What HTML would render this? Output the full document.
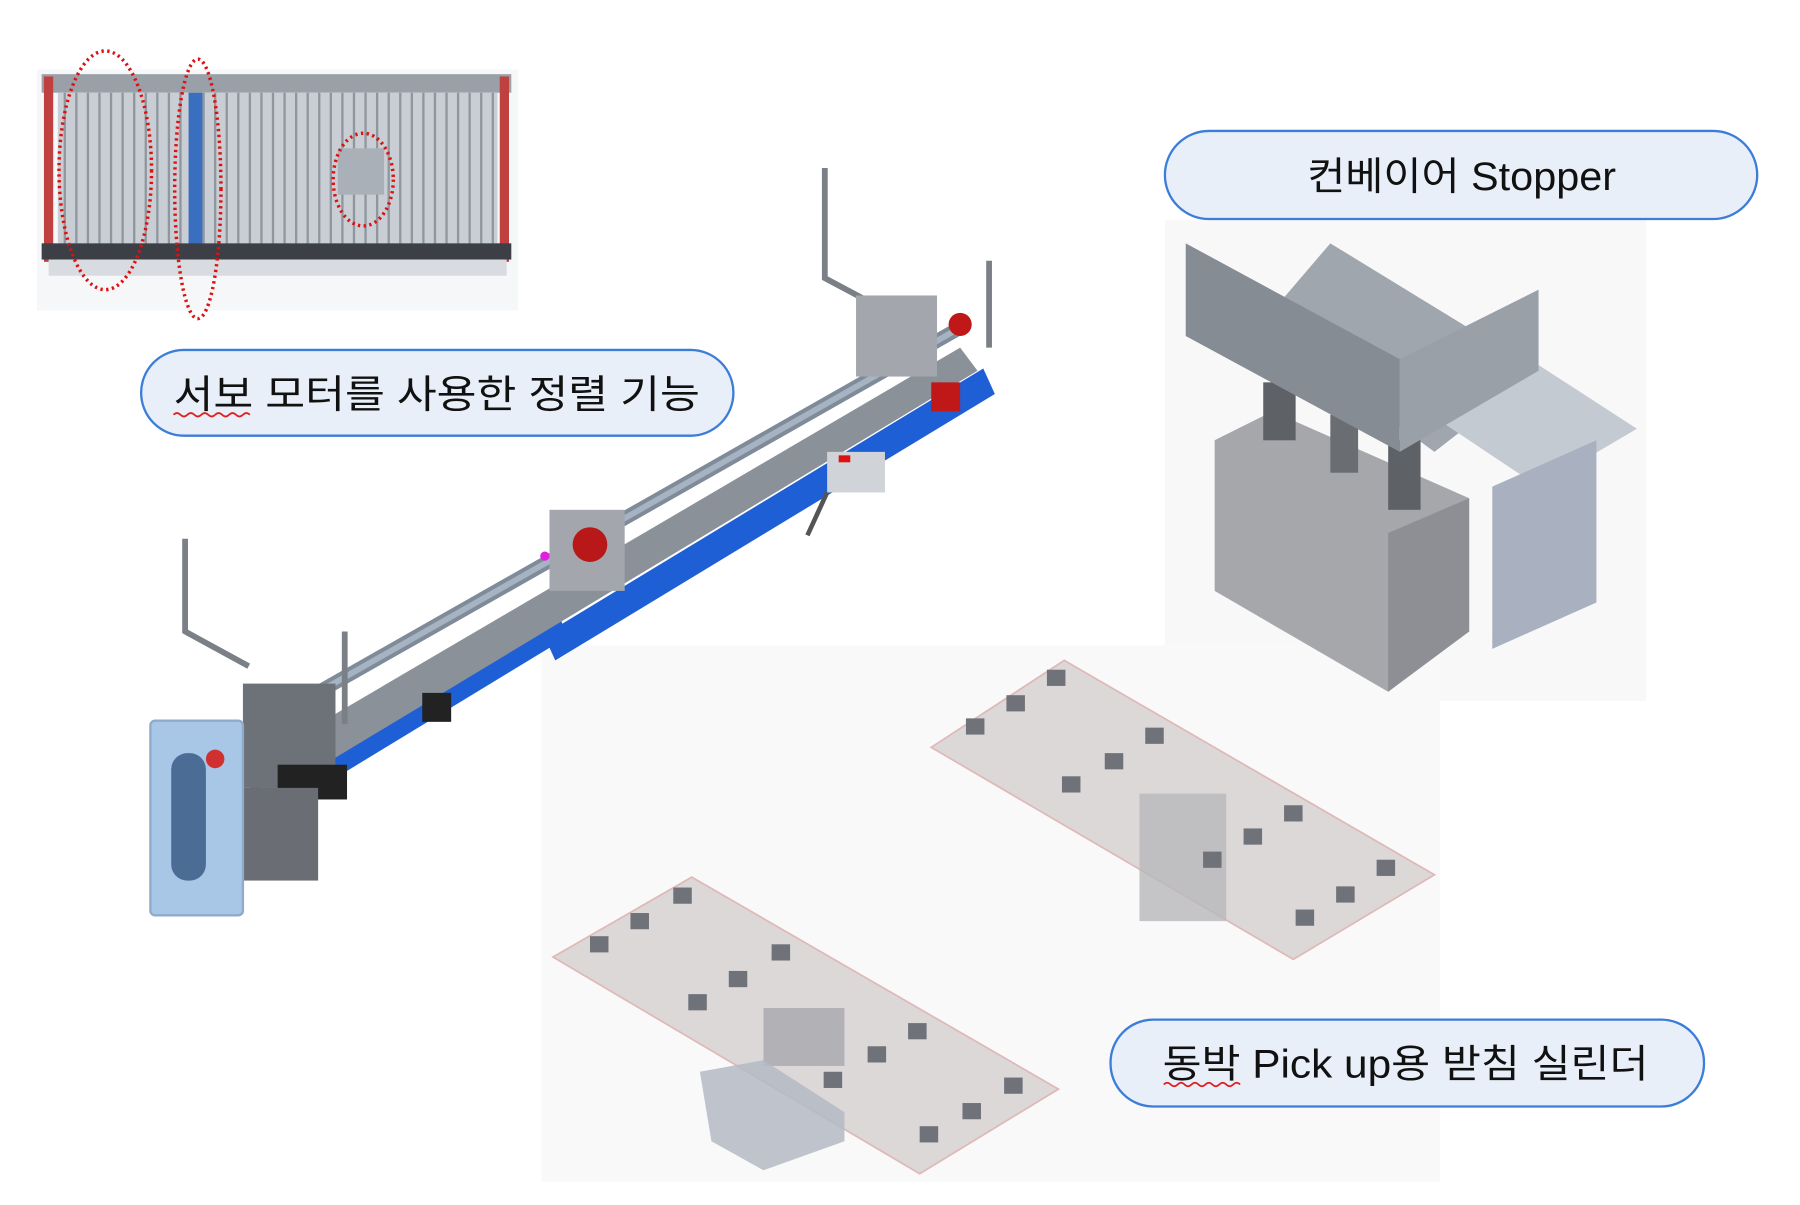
<!DOCTYPE html>
<html><head><meta charset="utf-8"><style>
html,body{margin:0;padding:0;background:#fff;}
svg{display:block;}
text{font-family:"Liberation Sans","Noto Sans CJK KR","NanumGothic",sans-serif;}
</style></head><body>
<svg width="1800" height="1205" viewBox="0 0 1556 1040" preserveAspectRatio="none" xmlns="http://www.w3.org/2000/svg">
<rect width="1556" height="1040" fill="#fff"/>
<rect x="1007" y="190" width="416" height="415" fill="#f8f8f8"/>
<rect x="468" y="557" width="777" height="463" fill="#f9f9f9"/>
<rect x="32" y="60" width="416" height="208" fill="#f6f7f8"/>

<rect x="36" y="64" width="406" height="16" fill="#9aa0a8"/>
<rect x="38" y="66" width="8" height="160" fill="#c04040"/>
<rect x="432" y="66" width="8" height="160" fill="#c04040"/>
<rect x="50" y="80" width="380" height="130" fill="#c9ced4"/>
<g stroke="#8f969e" stroke-width="2">
<line x1="56" y1="80" x2="56" y2="210"/><line x1="66" y1="80" x2="66" y2="210"/><line x1="76" y1="80" x2="76" y2="210"/><line x1="86" y1="80" x2="86" y2="210"/><line x1="96" y1="80" x2="96" y2="210"/><line x1="106" y1="80" x2="106" y2="210"/><line x1="116" y1="80" x2="116" y2="210"/><line x1="126" y1="80" x2="126" y2="210"/><line x1="136" y1="80" x2="136" y2="210"/><line x1="146" y1="80" x2="146" y2="210"/><line x1="156" y1="80" x2="156" y2="210"/><line x1="176" y1="80" x2="176" y2="210"/><line x1="186" y1="80" x2="186" y2="210"/><line x1="196" y1="80" x2="196" y2="210"/><line x1="206" y1="80" x2="206" y2="210"/><line x1="216" y1="80" x2="216" y2="210"/><line x1="226" y1="80" x2="226" y2="210"/><line x1="236" y1="80" x2="236" y2="210"/><line x1="246" y1="80" x2="246" y2="210"/><line x1="256" y1="80" x2="256" y2="210"/><line x1="266" y1="80" x2="266" y2="210"/><line x1="276" y1="80" x2="276" y2="210"/><line x1="286" y1="80" x2="286" y2="210"/><line x1="296" y1="80" x2="296" y2="210"/><line x1="306" y1="80" x2="306" y2="210"/><line x1="316" y1="80" x2="316" y2="210"/><line x1="326" y1="80" x2="326" y2="210"/><line x1="336" y1="80" x2="336" y2="210"/><line x1="346" y1="80" x2="346" y2="210"/><line x1="356" y1="80" x2="356" y2="210"/><line x1="366" y1="80" x2="366" y2="210"/><line x1="376" y1="80" x2="376" y2="210"/><line x1="386" y1="80" x2="386" y2="210"/><line x1="396" y1="80" x2="396" y2="210"/><line x1="406" y1="80" x2="406" y2="210"/><line x1="416" y1="80" x2="416" y2="210"/><line x1="426" y1="80" x2="426" y2="210"/>
</g>
<rect x="163" y="80" width="12" height="150" fill="#3a6fc0"/>
<rect x="292" y="128" width="40" height="40" fill="#aab0b8"/>
<rect x="36" y="210" width="406" height="14" fill="#3c4046"/>
<rect x="42" y="224" width="396" height="14" fill="#d8dbe0"/>
<g fill="none" stroke="#e01010" stroke-width="3" stroke-dasharray="2,3">
<ellipse cx="91" cy="147" rx="40" ry="103"/>
<ellipse cx="171" cy="163" rx="20" ry="112"/>
<ellipse cx="314" cy="155" rx="26" ry="40"/>
</g>

<polygon points="470,548 850,318 860,340 480,570" fill="#1f5fd6"/>
<polygon points="200,690 480,520 490,550 210,720" fill="#1f5fd6"/>
<polygon points="215,660 830,300 845,320 230,690" fill="#8b9199"/>
<line x1="200" y1="640" x2="835" y2="280" stroke="#7f8b98" stroke-width="12"/>
<line x1="200" y1="640" x2="835" y2="280" stroke="#a6b3c2" stroke-width="5"/>
<polyline points="713,145 713,240 760,265" fill="none" stroke="#7b7f86" stroke-width="5"/>
<polyline points="855,225 855,300" fill="none" stroke="#7b7f86" stroke-width="5"/>
<polyline points="160,465 160,545 215,575" fill="none" stroke="#7b7f86" stroke-width="5"/>
<line x1="298" y1="545" x2="298" y2="625" stroke="#7b7f86" stroke-width="5"/>
<rect x="740" y="255" width="70" height="70" fill="#a3a7ad"/>
<circle cx="830" cy="280" r="10" fill="#c01818"/>
<rect x="805" y="330" width="25" height="25" fill="#c01818"/>
<rect x="475" y="440" width="65" height="70" fill="#a3a7ad"/>
<circle cx="510" cy="470" r="15" fill="#b81818"/>
<circle cx="471" cy="480" r="4" fill="#e020e0"/>
<rect x="715" y="390" width="50" height="35" fill="#d0d3d8"/>
<rect x="725" y="393" width="10" height="6" fill="#e01010"/>
<line x1="715" y1="425" x2="698" y2="462" stroke="#555" stroke-width="4"/>
<rect x="210" y="590" width="80" height="90" fill="#6d7178"/>
<rect x="240" y="660" width="60" height="30" fill="#222"/>
<rect x="365" y="598" width="25" height="25" fill="#222"/>
<rect x="200" y="680" width="75" height="80" fill="#6a6e74"/>
<rect x="130" y="622" width="80" height="168" rx="4" fill="#a8c6e6" stroke="#90aacb" stroke-width="2"/>
<rect x="148" y="650" width="30" height="110" rx="14" fill="#4b6d95"/>
<circle cx="186" cy="655" r="8" fill="#d03030"/>

<polygon points="1090,280 1150,210 1330,320 1240,390" fill="#a0a6ae"/>
<polygon points="1240,360 1330,315 1415,370 1330,420" fill="#c4cad2"/>
<polygon points="1290,420 1380,380 1380,520 1290,560" fill="#a9b1c0"/>
<polygon points="1050,380 1100,355 1270,430 1270,545 1200,597 1050,510" fill="#a5a7ab"/>
<polygon points="1200,460 1270,430 1270,545 1200,597" fill="#8e8f94"/>
<rect x="1092" y="330" width="28" height="50" fill="#5e6166"/>
<rect x="1150" y="358" width="24" height="50" fill="#6a6d72"/>
<rect x="1200" y="380" width="28" height="60" fill="#5e6166"/>
<polygon points="1025,210 1210,310 1210,390 1025,290" fill="#868c94"/>
<polygon points="1210,310 1330,250 1330,320 1210,390" fill="#9aa0a8"/>

<polygon points="805,645 920,570 1240,755 1118,828" fill="#dcd8d8" stroke="#e0b8b8" stroke-width="1.5"/>
<polygon points="478,826 598,757 915,940 795,1013" fill="#dcd8d8" stroke="#e0b8b8" stroke-width="1.5"/>
<rect x="985" y="685" width="75" height="110" fill="#b8b8bc" opacity="0.8"/>
<rect x="660" y="870" width="70" height="50" fill="#a8a8ac" opacity="0.8"/>
<polygon points="605,925 660,915 730,960 730,985 660,1010 615,985" fill="#b4bac4" opacity="0.85"/>
<g fill="#6f7379">
<rect x="835" y="620" width="16" height="14"/><rect x="870" y="600" width="16" height="14"/><rect x="905" y="578" width="16" height="14"/>
<rect x="918" y="670" width="16" height="14"/><rect x="955" y="650" width="16" height="14"/><rect x="990" y="628" width="16" height="14"/>
<rect x="1110" y="695" width="16" height="14"/><rect x="1075" y="715" width="16" height="14"/><rect x="1040" y="735" width="16" height="14"/>
<rect x="1190" y="742" width="16" height="14"/><rect x="1155" y="765" width="16" height="14"/><rect x="1120" y="785" width="16" height="14"/>
<rect x="510" y="808" width="16" height="14"/><rect x="545" y="788" width="16" height="14"/><rect x="582" y="766" width="16" height="14"/>
<rect x="595" y="858" width="16" height="14"/><rect x="630" y="838" width="16" height="14"/><rect x="667" y="815" width="16" height="14"/>
<rect x="785" y="883" width="16" height="14"/><rect x="750" y="903" width="16" height="14"/><rect x="712" y="925" width="16" height="14"/>
<rect x="868" y="930" width="16" height="14"/><rect x="832" y="952" width="16" height="14"/><rect x="795" y="972" width="16" height="14"/>
</g>

<g stroke="#3b7dd8" stroke-width="2" fill="#e9eff9">
<rect x="122" y="302" width="512" height="74" rx="37"/>
<rect x="1007" y="113" width="512" height="76" rx="38"/>
<rect x="960" y="880" width="513" height="75" rx="37"/>
</g>
<g font-size="34" fill="#111">
<text x="150" y="352" textLength="455" lengthAdjust="spacingAndGlyphs">서보 모터를 사용한 정렬 기능</text>
<text x="1130" y="164" textLength="267" lengthAdjust="spacingAndGlyphs">컨베이어 Stopper</text>
<text x="1005" y="930" textLength="420" lengthAdjust="spacingAndGlyphs">동박 Pick up용 받침 실린더</text>
</g>
<path d="M150,358 q3,-3 6,0 t6,0 t6,0 t6,0 t6,0 t6,0 t6,0 t6,0 t6,0 t6,0 t6,0" fill="none" stroke="#e02020" stroke-width="1.5"/>
<path d="M1006,936 q3,-3 6,0 t6,0 t6,0 t6,0 t6,0 t6,0 t6,0 t6,0 t6,0 t6,0 t6,0" fill="none" stroke="#e02020" stroke-width="1.5"/>
</svg>
</body></html>
